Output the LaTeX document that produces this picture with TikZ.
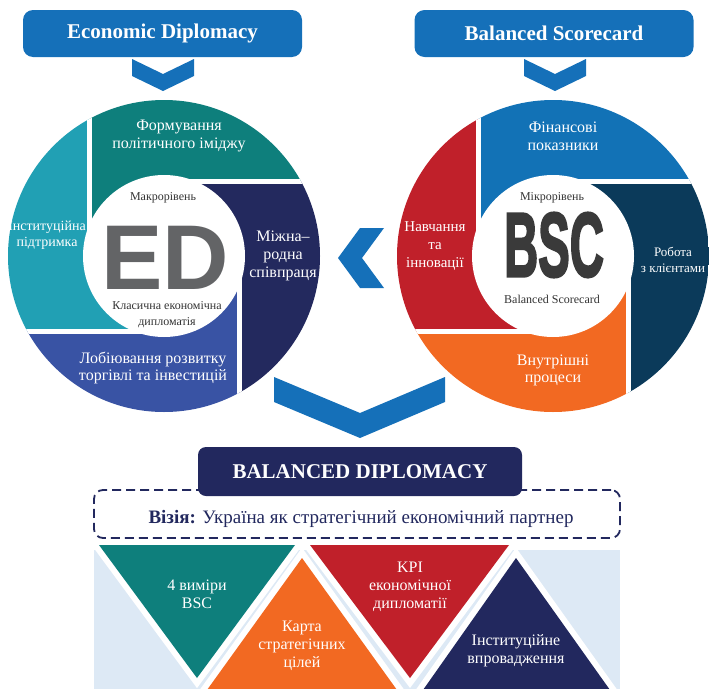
\documentclass[tikz,border=0pt]{standalone}
\usepackage{fontspec}
\usepackage{graphicx}
\setmainfont{Liberation Serif}
\newfontfamily\bigsans{Liberation Sans}
\newfontfamily\bscsans[FakeBold=3]{Liberation Sans}

\definecolor{headblue}{HTML}{1570B9}
\definecolor{edteal}{HTML}{0E7F7C}
\definecolor{edcyan}{HTML}{21A0B4}
\definecolor{ednavy}{HTML}{23295E}
\definecolor{edblue}{HTML}{3953A4}
\definecolor{bscblue}{HTML}{1272B6}
\definecolor{bscnavy}{HTML}{0B3A5A}
\definecolor{bscorange}{HTML}{F26922}
\definecolor{bscred}{HTML}{C0202A}
\definecolor{bdnavy}{HTML}{22285E}
\definecolor{paleblue}{HTML}{DDE9F5}
\definecolor{edgray}{HTML}{636466}
\definecolor{bscgray}{HTML}{3A3A3A}

\tikzset{
  headbox/.style={fill=headblue, rounded corners=10pt, text=white, minimum width=279pt, minimum height=47pt, font=\fontsize{21}{23}\selectfont\bfseries},
  seglabel/.style={text=white, align=center, font=\fontsize{16}{18}\selectfont},
  corelabel/.style={text=black!80, align=center, inner sep=1pt, font=\fontsize{12}{16}\selectfont},
  gapline/.style={white, line width=5pt},
  triedge/.style={draw=white, line width=12pt},
}

\begin{document}
\begin{tikzpicture}[x=1pt,y=-1pt]
\useasboundingbox (0,0) rectangle (709,688);

% headers
\node[headbox] (edhead) at (162.5,33.5) {Economic Diplomacy};
\node[headbox] (bschead) at (554,33.5) {Balanced Scorecard};
\fill[headblue] (132,59) -- (163,74) -- (194,59) -- (194,76) -- (163,91) -- (132,76) -- cycle;
\fill[headblue] (524,59) -- (555,74) -- (586,59) -- (586,76) -- (555,91) -- (524,76) -- cycle;

% ED wheel
\begin{scope}[shift={(164,256)}]
\clip (0,0) circle [radius=156];
\fill[edteal] (-75,-200) -- (200,-200) -- (200,-75) -- (30.6,-75) -- (0,0) -- (-75,-30.6) -- cycle;
\fill[ednavy, rotate=-90] (-75,-200) -- (200,-200) -- (200,-75) -- (30.6,-75) -- (0,0) -- (-75,-30.6) -- cycle;
\fill[edblue, rotate=-180] (-75,-200) -- (200,-200) -- (200,-75) -- (30.6,-75) -- (0,0) -- (-75,-30.6) -- cycle;
\fill[edcyan, rotate=-270] (-75,-200) -- (200,-200) -- (200,-75) -- (30.6,-75) -- (0,0) -- (-75,-30.6) -- cycle;
\draw[gapline] (-75,-20) -- (-75,-170);
\draw[gapline, rotate=-90] (-75,-20) -- (-75,-170);
\draw[gapline, rotate=-180] (-75,-20) -- (-75,-170);
\draw[gapline, rotate=-270] (-75,-20) -- (-75,-170);
\fill[white] (0,0) circle [radius=81];
\end{scope}

\node[seglabel] (imidzh) at (179,136) {Формування\\політичного іміджу};
\node[seglabel] (spivpratsya) at (283,256) {Міжна–\\родна\\співпраця};
\node[seglabel, font=\fontsize{16}{17}\selectfont] (lobi) at (153,368) {Лобіювання розвитку\\торгівлі та інвестицій};
\node[seglabel, font=\fontsize{14}{16}\selectfont] (pidtrymka) at (47,235) {Інституційна\\підтримка};
\node[corelabel] (makro) at (163,198) {Макрорівень};
\node[text=edgray, inner sep=0pt, font=\bigsans\bfseries\fontsize{92}{92}\selectfont] (edmark) at (165,258) {ED};
\node[corelabel] (klasychna) at (167,315) {Класична економічна\\дипломатія};

% BSC wheel
\begin{scope}[shift={(553,256)}]
\clip (0,0) circle [radius=156];
\fill[bscblue] (-75,-200) -- (200,-200) -- (200,-75) -- (30.6,-75) -- (0,0) -- (-75,-30.6) -- cycle;
\fill[bscnavy, rotate=-90] (-75,-200) -- (200,-200) -- (200,-75) -- (30.6,-75) -- (0,0) -- (-75,-30.6) -- cycle;
\fill[bscorange, rotate=-180] (-75,-200) -- (200,-200) -- (200,-75) -- (30.6,-75) -- (0,0) -- (-75,-30.6) -- cycle;
\fill[bscred, rotate=-270] (-75,-200) -- (200,-200) -- (200,-75) -- (30.6,-75) -- (0,0) -- (-75,-30.6) -- cycle;
\draw[gapline] (-75,-20) -- (-75,-170);
\draw[gapline, rotate=-90] (-75,-20) -- (-75,-170);
\draw[gapline, rotate=-180] (-75,-20) -- (-75,-170);
\draw[gapline, rotate=-270] (-75,-20) -- (-75,-170);
\fill[white] (0,0) circle [radius=81];
\end{scope}

\node[seglabel] (finansovi) at (563,136) {Фінансові\\показники};
\node[seglabel, font=\fontsize{13}{16}\selectfont] (robota) at (673,260) {Робота\\з клієнтами};
\node[seglabel, font=\fontsize{16}{17}\selectfont] (protsesy) at (553,370) {Внутрішні\\процеси};
\node[seglabel, font=\fontsize{15}{18}\selectfont] (navchannya) at (435,246) {Навчання\\та\\інновації};
\node[corelabel] (mikro) at (552,198) {Мікрорівень};
\node[text=bscgray, inner sep=0pt] (bscmark) at (554,245) {\scalebox{0.52}[1]{\bscsans\bfseries\fontsize{91}{91}\selectfont BSC}};
\node[corelabel] (scorecard) at (552,299) {Balanced Scorecard};

% chevrons between the wheels
\fill[headblue] (360,228) -- (384,228) -- (362,258) -- (384,288) -- (360,288) -- (338,258) -- cycle;
\fill[headblue] (274,377) -- (360,413) -- (445,377) -- (445,402) -- (360,438) -- (274,402) -- cycle;

% triangles
\fill[paleblue] (94,550) rectangle (620,690);
\path[triedge] (99,545) -- (295,545) -- (197,678) -- cycle;
\path[triedge] (302,558) -- (397,690) -- (207,690) -- cycle;
\path[triedge] (310,545) -- (509,545) -- (410,678) -- cycle;
\path[triedge] (516,558) -- (610,690) -- (423,690) -- cycle;
\fill[edteal] (99,545) -- (295,545) -- (197,678) -- cycle;
\fill[bscorange] (302,558) -- (397,690) -- (207,690) -- cycle;
\fill[bscred] (310,545) -- (509,545) -- (410,678) -- cycle;
\fill[bdnavy] (516,558) -- (610,690) -- (423,690) -- cycle;

\node[seglabel] (vymiry) at (197,594) {4 виміри\\BSC};
\node[seglabel] (karta) at (302,646) {Карта\\стратегічних\\цілей};
\node[seglabel] (kpi) at (410,587) {KPI\\економічної\\дипломатії};
\node[seglabel] (vprovadzhennya) at (516,651) {Інституційне\\впровадження};

% vision and title
\node[draw=bdnavy, line width=1.8pt, dash pattern=on 9pt off 5pt, rounded corners=9pt, minimum width=526pt, minimum height=48pt] (viziabox) at (357,514) {};
\node[text=bdnavy, font=\fontsize{19}{21}\selectfont] (vizia) at (361,519) {\textbf{Візія:} Україна як стратегічний економічний партнер};
\node[fill=bdnavy, rounded corners=8pt, minimum width=324pt, minimum height=49pt, text=white, font=\fontsize{21}{23}\selectfont\bfseries] (balanced) at (360,471.5) {BALANCED DIPLOMACY};

\end{tikzpicture}
\end{document}
